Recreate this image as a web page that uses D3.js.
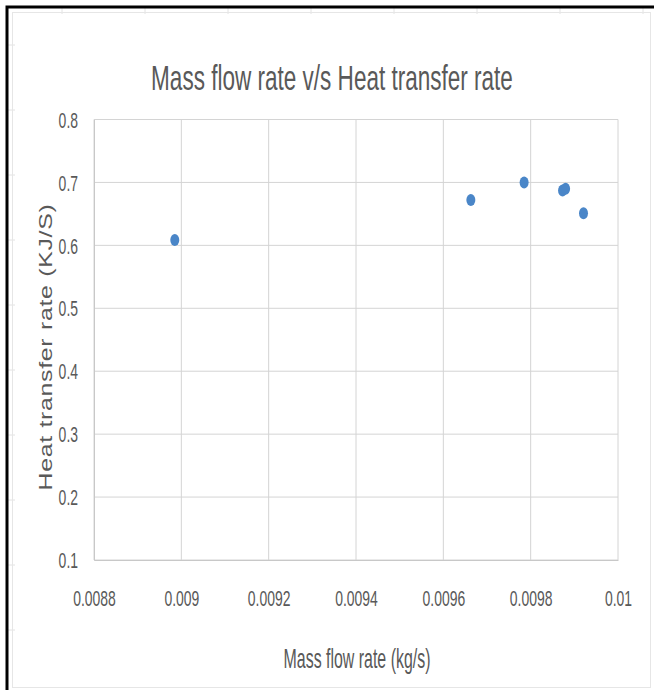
<!DOCTYPE html>
<html>
<head>
<meta charset="utf-8">
<script src="https://cdn.jsdelivr.net/npm/d3@7"></script>
<style>
    body { margin: 0; background: #fff; }
    text { font-family: "Liberation Sans", Arial, sans-serif; fill: #595959; }
</style>
</head>
<body>
<div id="chart"></div>
<script>
// values
const massFlow = [0.008985, 0.009663, 0.009785, 0.009873, 0.00988, 0.009921];
const heatRate = [0.6085, 0.672, 0.700, 0.687, 0.690, 0.651];
const xTicks = [0.0088, 0.009, 0.0092, 0.0094, 0.0096, 0.0098, 0.01];
const yTicks = [0.1, 0.2, 0.3, 0.4, 0.5, 0.6, 0.7, 0.8];

// squeeze a text sideways so it fills the wanted width
function fitText(sel, cx, cy, wanted, rotate) {
    let natural = sel.node().getComputedTextLength();
    let s = wanted / natural;
    sel.attr("x", 0).attr("y", 0)
        .attr("transform", "translate(" + cx + "," + cy + ")" + (rotate ? " rotate(-90)" : "") +
            " scale(" + s + ",1)");
}

function setupChart() {
    const width = 654
    const height = 690
    const plot = {left: 94, right: 618, top: 119.5, bottom: 560}
    const squeeze = 0.62   // the screenshot is squashed sideways

    let svg = d3.select("#chart")
        .append("svg")
        .attr("width", width)
        .attr("height", height);

    svg.append("rect")
        .attr("width", width).attr("height", height)
        .attr("fill", "#fff");

    // faint spreadsheet cell lines behind the chart
    d3.range(62, 654, 83).forEach(function (x) {
        svg.append("line").attr("x1", x).attr("x2", x).attr("y1", 8).attr("y2", 14)
            .attr("stroke", "#e2e2e2");
    });
    d3.range(45, 690, 65).forEach(function (y) {
        svg.append("line").attr("x1", 8).attr("x2", 15).attr("y1", y).attr("y2", y)
            .attr("stroke", "#e2e2e2");
    });

    // chart area frame
    svg.append("rect")
        .attr("x", 12.5).attr("y", 12.5)
        .attr("width", 638).attr("height", 675)
        .attr("fill", "none")
        .attr("stroke", "#e6e6e6");

    // black edge of the screenshot (top and left)
    svg.append("path")
        .attr("d", "M7,690 V7 H654")
        .attr("fill", "none")
        .attr("stroke", "#000")
        .attr("stroke-width", 3);

    let x = d3.scaleLinear().domain([0.0088, 0.01]).range([plot.left, plot.right]);
    let y = d3.scaleLinear().domain([0.1, 0.8]).range([plot.bottom, plot.top]);

    // gridlines
    svg.append("g")
        .selectAll("line")
        .data(yTicks)
        .enter()
        .append("line")
        .attr("x1", plot.left).attr("x2", plot.right)
        .attr("y1", function (d) { return y(d); })
        .attr("y2", function (d) { return y(d); })
        .attr("stroke", "#d4d4d4");

    svg.append("g")
        .selectAll("line")
        .data(xTicks)
        .enter()
        .append("line")
        .attr("x1", function (d) { return x(d); })
        .attr("x2", function (d) { return x(d); })
        .attr("y1", plot.top).attr("y2", plot.bottom)
        .attr("stroke", "#d4d4d4");

    // axes
    let xAxis = svg.append("g")
        .attr("transform", "translate(0," + plot.bottom + ")")
        .call(d3.axisBottom(x).tickValues(xTicks).tickSize(0).tickSizeOuter(0)
            .tickFormat(function (d) { return String(+d.toFixed(4)); }));
    xAxis.select(".domain").attr("stroke", "#c8c8c8");
    xAxis.selectAll("text")
        .attr("y", 46).attr("dy", 0)
        .attr("fill", "#595959")
        .style("font-size", "22.5px")
        .attr("transform", "scale(" + squeeze + ",1)");

    let yAxis = svg.append("g")
        .attr("transform", "translate(" + plot.left + ",0)")
        .call(d3.axisLeft(y).tickValues(yTicks).tickSize(0).tickSizeOuter(0)
            .tickFormat(d3.format(".1f")));
    yAxis.select(".domain").attr("stroke", "#c8c8c8");
    yAxis.selectAll("text")
        .attr("x", 0).attr("dy", "0.34em")
        .attr("fill", "#595959")
        .style("font-size", "22.5px")
        .attr("transform", "translate(-16,0) scale(" + squeeze + ",1)");

    // points
    svg.append("g")
        .selectAll("ellipse")
        .data(massFlow)
        .enter()
        .append("ellipse")
        .attr("cx", function (d) { return x(d); })
        .attr("cy", function (d, i) { return y(heatRate[i]); })
        .attr("rx", 4.5)
        .attr("ry", 6)
        .attr("fill", "#4a86c8");

    // titles
    let title = svg.append("text")
        .attr("text-anchor", "middle")
        .style("font-size", "36px")
        .text("Mass flow rate  v/s Heat transfer rate");
    fitText(title, 332, 90, 362, false);

    let xTitle = svg.append("text")
        .attr("text-anchor", "middle")
        .style("font-size", "27px")
        .text("Mass flow rate (kg/s)");
    fitText(xTitle, 357, 668, 147, false);

    let yTitle = svg.append("text")
        .attr("text-anchor", "middle")
        .style("font-size", "18px")
        .style("letter-spacing", "0.5px")
        .text("Heat transfer rate (KJ/S)");
    fitText(yTitle, 52, 347, 287, true);
}

setupChart();
</script>
</body>
</html>
